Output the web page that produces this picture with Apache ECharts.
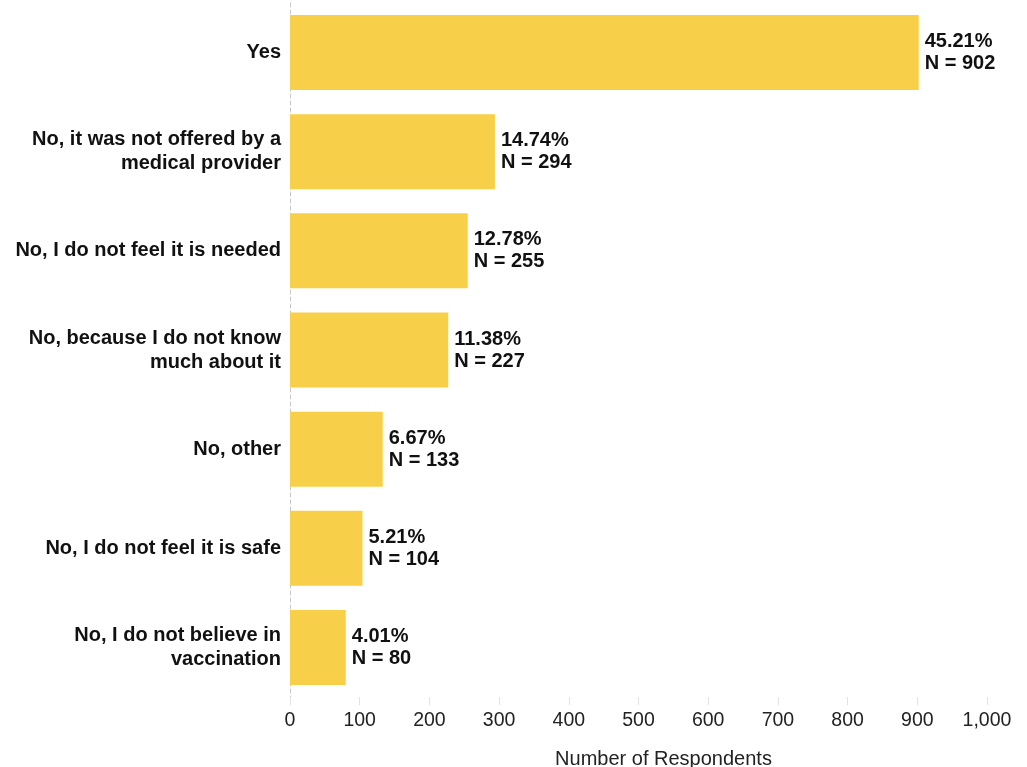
<!DOCTYPE html>
<html>
<head>
<meta charset="utf-8">
<script src="https://cdn.jsdelivr.net/npm/echarts@6/dist/echarts.min.js"></script>
<style>
html,body{margin:0;padding:0;background:#fff;}
#chart{width:1027px;height:767px;}
</style>
</head>
<body>
<div id="chart"></div>
<script>
const categories = [
  "Yes",
  "No, it was not offered by a\nmedical provider",
  "No, I do not feel it is needed",
  "No, because I do not know\nmuch about it",
  "No, other",
  "No, I do not feel it is safe",
  "No, I do not believe in\nvaccination"
];
const counts = [902, 294, 255, 227, 133, 104, 80];
const percents = ["45.21%", "14.74%", "12.78%", "11.38%", "6.67%", "5.21%", "4.01%"];
const xTicks = [0, 100, 200, 300, 400, 500, 600, 700, 800, 900, 1000];

const chart = echarts.init(document.getElementById('chart'));
const font = '"Liberation Sans", Arial, Helvetica, sans-serif';
chart.setOption({
  animation: false,
  textStyle: { fontFamily: font },
  grid: { left: 290, right: 40, top: 3, bottom: 70, containLabel: false, outerBoundsMode: 'none' },
  xAxis: {
    type: 'value',
    min: xTicks[0],
    max: xTicks[xTicks.length - 1],
    interval: 100,
    name: 'Number of Respondents',
    nameLocation: 'middle',
    nameGap: 52,
    nameTextStyle: { fontSize: 20, color: '#222', fontFamily: font, padding: [0, 0, 0, 50] },
    axisLine: { show: false },
    axisTick: { show: true, length: 8, lineStyle: { color: '#e2e2e2', width: 1 } },
    splitLine: { show: false },
    axisLabel: {
      fontSize: 19.5, color: '#222', margin: 14, fontFamily: font,
      formatter: v => v.toLocaleString('en-US')
    }
  },
  yAxis: {
    type: 'category',
    data: categories,
    inverse: true,
    axisLine: { show: true, lineStyle: { color: '#c8c8c8', type: [4, 3], width: 1 } },
    axisTick: { show: false },
    axisLabel: {
      fontSize: 20, fontWeight: 'bold', color: '#111', margin: 9,
      lineHeight: 24, align: 'right', fontFamily: font
    }
  },
  series: [{
    type: 'bar',
    data: counts,
    barWidth: 75,
    itemStyle: { color: '#F8CF48' },
    label: {
      show: true,
      position: 'right',
      distance: 6,
      fontSize: 20,
      fontWeight: 'bold',
      color: '#111',
      lineHeight: 22,
      fontFamily: font,
      formatter: p => percents[p.dataIndex] + '\nN = ' + counts[p.dataIndex]
    }
  }]
});
</script>
</body>
</html>
